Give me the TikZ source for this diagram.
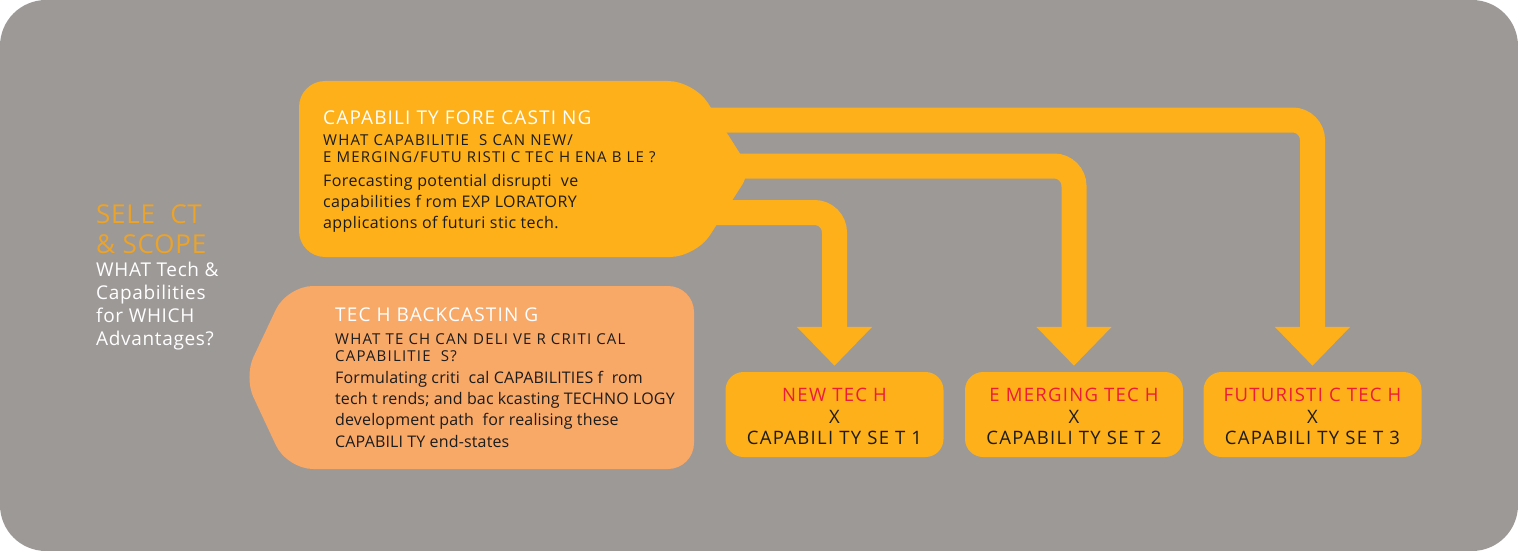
\documentclass[tikz,border=0pt]{standalone}
\usepackage{fontspec}
\setmainfont{Open Sans}
\usetikzlibrary{arrows.meta}
\definecolor{bggray}{RGB}{157,153,151}
\definecolor{orangeA}{RGB}{253,176,25}
\definecolor{orangeL}{RGB}{248,168,103}
\definecolor{selcol}{RGB}{236,163,40}
\definecolor{redtxt}{RGB}{236,28,56}
\definecolor{darktxt}{RGB}{28,28,28}
\newcommand{\ls}[1]{\addfontfeature{LetterSpace=#1}}
\begin{document}
\begin{tikzpicture}[x=1pt,y=-1pt,
  band/.style={line width=25pt, draw=orangeA, rounded corners=20pt, -{Triangle[width=73pt,length=39pt]}},
  resbox/.style={fill=orangeA, rounded corners=18pt, minimum width=218pt, minimum height=85pt, inner sep=0pt},
  restxt/.style={align=center, inner sep=0pt, font=\fontsize{18.5}{21.7}\selectfont\ls{7}, text=darktxt},
  txt/.style={inner sep=0pt, anchor=base west, align=left},
]
\useasboundingbox (0,0) rectangle (1518,551);
\fill[white] (0,0) rectangle (1518,551);
\fill[bggray, rounded corners=46pt] (0,0) rectangle (1518,551);

% capability forecasting shape
\fill[orangeA, rounded corners=26pt] (299,170) -- (299,81) -- (694,81)
   [rounded corners=16pt] -- (751,171) [rounded corners=26pt] -- (696,257) -- (299,257) -- cycle;
\coordinate (o1) at (700,120);
\coordinate (o2) at (720,166);
\coordinate (o3) at (710,212.5);

% tech backcasting shape
\fill[orangeL, rounded corners=26pt] (500,286) -- (694,286) -- (694,469) -- (287,469)
   [rounded corners=22pt] -- (244,377) [rounded corners=26pt] -- (287,286) -- cycle;

% result boxes
\node[resbox] (r1) at (834.5,414.5) {};
\node[resbox] (r2) at (1074,414.5) {};
\node[resbox] (r3) at (1312.5,414.5) {};
\node[restxt] (t1) at ([yshift=-2pt]r1.center) {\textcolor{redtxt}{NEW TEC H}\\X\\CAPABILI TY SE T 1};
\node[restxt] (t2) at ([yshift=-2pt]r2.center) {\textcolor{redtxt}{E MERGING TEC H}\\X\\CAPABILI TY SE T 2};
\node[restxt] (t3) at ([yshift=-2pt]r3.center) {\textcolor{redtxt}{FUTURISTI C TEC H}\\X\\CAPABILI TY SE T 3};

% bands
\draw[band] (o1) -| ([yshift=6pt]r3.north);
\draw[band] (o2) -| ([yshift=6pt]r2.north);
\draw[band] (o3) -| ([yshift=6pt]r1.north);

% forecasting text
\node[txt, text=white, font=\fontsize{19}{23}\selectfont\ls{6}] (fct) at (323,124) {CAPABILI TY FORE CASTI NG};
\node[txt, text=darktxt, font=\fontsize{15}{17}\selectfont\ls{8}] (fcq) at (323,162) {WHAT CAPABILITIE\ \ S CAN NEW/\\E MERGING/FUTU RISTI C TEC H ENA B LE ?};
\node[txt, text=darktxt, font=\fontsize{16}{21}\selectfont\ls{2.5}] (fcd) at (323,228) {Forecasting potential disrupti\ \ ve\\capabilities f rom EXP LORATORY\\applications of futuri stic tech.};

% backcasting text
\node[txt, text=white, font=\fontsize{19}{23}\selectfont\ls{6}] (bct) at (335,321.7) {TEC H BACKCASTIN G};
\node[txt, text=darktxt, font=\fontsize{15}{17}\selectfont\ls{8}] (bcq) at (335,361) {WHAT TE CH CAN DELI VE R CRITI CAL\\CAPABILITIE\ \ S?};
\node[txt, text=darktxt, font=\fontsize{16}{21.3}\selectfont\ls{1}] (bcd) at (335,447) {Formulating criti\ \ cal CAPABILITIES f\ \ rom\\tech t rends; and bac kcasting TECHNO LOGY\\development path\ \ for realising these\\CAPABILI TY end-states};

% select & scope
\node[txt, text=selcol, font=\fontsize{26}{30}\selectfont\ls{3}] (sel) at (96,253) {SELE\ \ CT\\\& SCOPE};
\node[txt, text=white, font=\fontsize{19}{22.7}\selectfont\ls{3.5}] (selq) at (96,345) {WHAT Tech \&\\Capabilities\\for WHICH\\Advantages?};
\end{tikzpicture}
\end{document}
